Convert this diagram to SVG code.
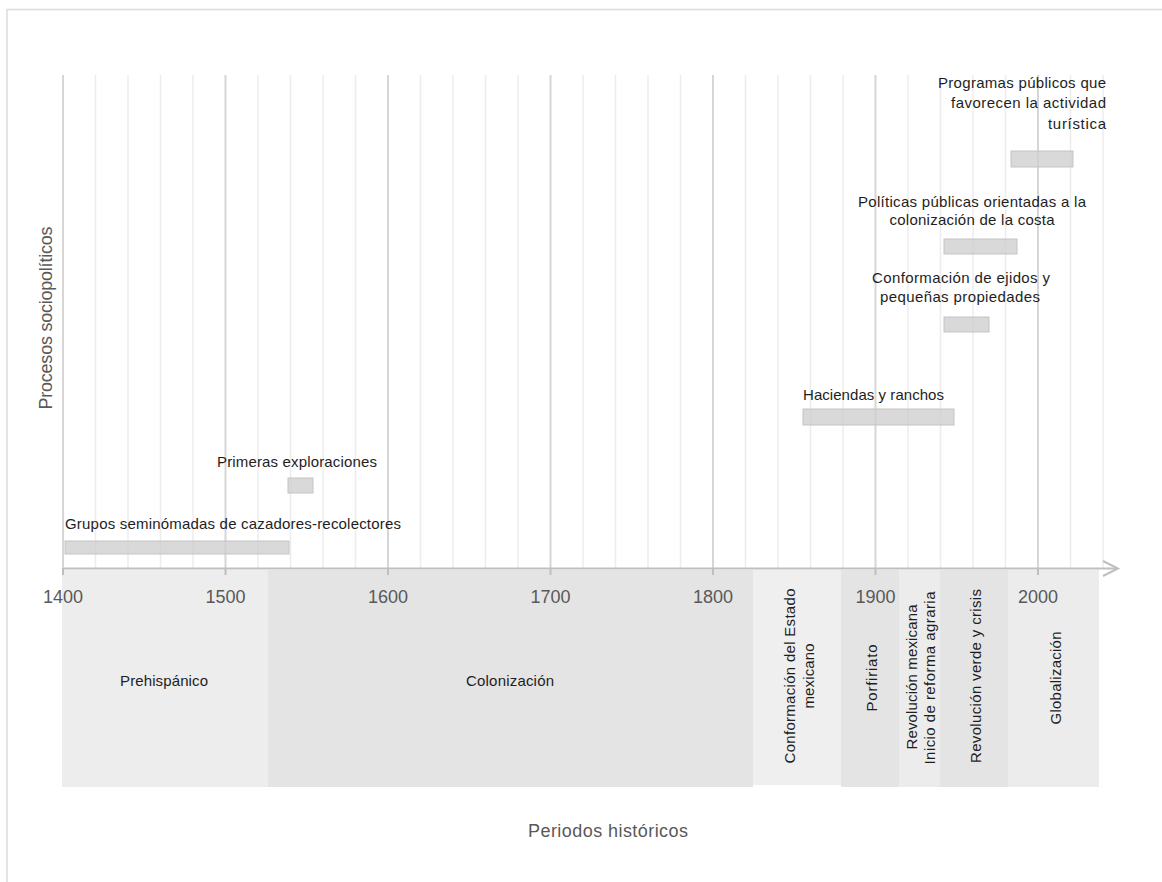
<svg xmlns="http://www.w3.org/2000/svg" width="1162" height="882" viewBox="0 0 1162 882">
<style>
.lbl{font-family:"Liberation Sans",Arial,sans-serif;font-size:15px;fill:#1e1e1e}
.yr{font-family:"Liberation Sans",Arial,sans-serif;font-size:18px;fill:#595959;text-anchor:middle}
.ax{font-family:"Liberation Sans",Arial,sans-serif;font-size:18px;fill:#595959;text-anchor:middle}
.mid{text-anchor:middle}
.end{text-anchor:end}
.g{stroke:#ececec;stroke-width:1.5}
.gc{stroke:#d6d6d6;stroke-width:2}
.bar{fill:#cfcfcf;fill-opacity:0.8;stroke:#c4c4c4;stroke-width:1}
.tick{stroke:#bfbfbf;stroke-width:2}
</style>
<rect x="0" y="0" width="1162" height="882" fill="#ffffff"/>
<rect x="7" y="9.5" width="1200" height="900" fill="none" stroke="#dcdcdc" stroke-width="1.5"/>

<g id="periods">
<rect x="62" y="570" width="206" height="217" fill="#ededed"/>
<rect x="268" y="570" width="485" height="217" fill="#e4e4e4"/>
<rect x="753" y="570" width="88" height="215" fill="#efefef"/>
<rect x="841" y="570" width="58" height="217" fill="#e4e4e4"/>
<rect x="899" y="570" width="41" height="217" fill="#ececec"/>
<rect x="940" y="570" width="68" height="217" fill="#e4e4e4"/>
<rect x="1008" y="570" width="91" height="217" fill="#ececec"/>
<text class="lbl mid" x="164" y="686" textLength="88">Prehispánico</text>
<text class="lbl mid" x="510" y="686" textLength="88">Colonización</text>
<text class="lbl mid" transform="translate(795,676) rotate(-90)" textLength="175">Conformación del Estado</text>
<text class="lbl mid" transform="translate(814,676) rotate(-90)" textLength="65">mexicano</text>
<text class="lbl mid" transform="translate(877,678) rotate(-90)" textLength="67">Porfiriato</text>
<text class="lbl mid" transform="translate(917,677) rotate(-90)" textLength="145">Revolución mexicana</text>
<text class="lbl mid" transform="translate(935,678) rotate(-90)" textLength="173">Inicio de reforma agraria</text>
<text class="lbl mid" transform="translate(981,676) rotate(-90)" textLength="174">Revolución verde y crisis</text>
<text class="lbl mid" transform="translate(1061,678) rotate(-90)" textLength="93">Globalización</text>
</g>

<g id="grid">
<line class="gc" x1="63" y1="75" x2="63" y2="568"/>
<line class="g" x1="95.5" y1="75" x2="95.5" y2="568"/>
<line class="g" x1="128" y1="75" x2="128" y2="568"/>
<line class="g" x1="160.5" y1="75" x2="160.5" y2="568"/>
<line class="g" x1="193" y1="75" x2="193" y2="568"/>
<line class="gc" x1="225.5" y1="75" x2="225.5" y2="568"/>
<line class="g" x1="258" y1="75" x2="258" y2="568"/>
<line class="g" x1="290.5" y1="75" x2="290.5" y2="568"/>
<line class="g" x1="323" y1="75" x2="323" y2="568"/>
<line class="g" x1="355.5" y1="75" x2="355.5" y2="568"/>
<line class="gc" x1="388" y1="75" x2="388" y2="568"/>
<line class="g" x1="420.5" y1="75" x2="420.5" y2="568"/>
<line class="g" x1="453" y1="75" x2="453" y2="568"/>
<line class="g" x1="485.5" y1="75" x2="485.5" y2="568"/>
<line class="g" x1="518" y1="75" x2="518" y2="568"/>
<line class="gc" x1="550.5" y1="75" x2="550.5" y2="568"/>
<line class="g" x1="583" y1="75" x2="583" y2="568"/>
<line class="g" x1="615.5" y1="75" x2="615.5" y2="568"/>
<line class="g" x1="648" y1="75" x2="648" y2="568"/>
<line class="g" x1="680.5" y1="75" x2="680.5" y2="568"/>
<line class="gc" x1="713" y1="75" x2="713" y2="568"/>
<line class="g" x1="745.5" y1="75" x2="745.5" y2="568"/>
<line class="g" x1="778" y1="75" x2="778" y2="568"/>
<line class="g" x1="810.5" y1="75" x2="810.5" y2="568"/>
<line class="g" x1="843" y1="75" x2="843" y2="568"/>
<line class="gc" x1="875.5" y1="75" x2="875.5" y2="568"/>
<line class="g" x1="908" y1="75" x2="908" y2="568"/>
<line class="g" x1="940.5" y1="75" x2="940.5" y2="568"/>
<line class="g" x1="973" y1="75" x2="973" y2="568"/>
<line class="g" x1="1005.5" y1="75" x2="1005.5" y2="568"/>
<line class="gc" x1="1038" y1="75" x2="1038" y2="568"/>
<line class="g" x1="1070.5" y1="75" x2="1070.5" y2="568"/>
<line class="g" x1="1103" y1="75" x2="1103" y2="568"/>
</g>

<g id="axis">
<line x1="63" y1="568.5" x2="1117" y2="568.5" stroke="#bfbfbf" stroke-width="2"/>
<polyline points="1103,561 1118,568.5 1103,576" fill="none" stroke="#bfbfbf" stroke-width="2"/>
<line class="tick" x1="63" y1="568" x2="63" y2="575"/>
<line class="tick" x1="225.5" y1="568" x2="225.5" y2="575"/>
<line class="tick" x1="388" y1="568" x2="388" y2="575"/>
<line class="tick" x1="550.5" y1="568" x2="550.5" y2="575"/>
<line class="tick" x1="713" y1="568" x2="713" y2="575"/>
<line class="tick" x1="875.5" y1="568" x2="875.5" y2="575"/>
<line class="tick" x1="1038" y1="568" x2="1038" y2="575"/>
<text class="yr" x="63" y="603">1400</text>
<text class="yr" x="225.5" y="603">1500</text>
<text class="yr" x="388" y="603">1600</text>
<text class="yr" x="550.5" y="603">1700</text>
<text class="yr" x="713" y="603">1800</text>
<text class="yr" x="875.5" y="603">1900</text>
<text class="yr" x="1038" y="603">2000</text>
<text class="ax" x="608" y="837" textLength="160">Periodos históricos</text>
<text class="ax" transform="translate(52,318) rotate(-90)" textLength="183">Procesos sociopolíticos</text>
</g>

<g id="p-grupos">
<rect class="bar" x="65" y="541" width="224" height="13"/>
<text class="lbl" x="65" y="529" textLength="336">Grupos seminómadas de cazadores-recolectores</text>
</g>
<g id="p-primeras">
<rect class="bar" x="288" y="478" width="25" height="15"/>
<text class="lbl" x="217" y="467" textLength="160">Primeras exploraciones</text>
</g>
<g id="p-haciendas">
<rect class="bar" x="803" y="409" width="151" height="16"/>
<text class="lbl" x="803" y="400" textLength="141">Haciendas y ranchos</text>
</g>
<g id="p-ejidos">
<rect class="bar" x="944" y="317" width="45" height="15"/>
<text class="lbl mid" x="961" y="283" textLength="178">Conformación de ejidos y</text>
<text class="lbl mid" x="960" y="302" textLength="160">pequeñas propiedades</text>
</g>
<g id="p-politicas">
<rect class="bar" x="944" y="239" width="73" height="15"/>
<text class="lbl mid" x="972" y="207" textLength="228">Políticas públicas orientadas a la</text>
<text class="lbl mid" x="972" y="225" textLength="165">colonización de la costa</text>
</g>
<g id="p-programas">
<rect class="bar" x="1011" y="151" width="62" height="16"/>
<text class="lbl end" x="1106" y="88" textLength="168">Programas públicos que</text>
<text class="lbl end" x="1106" y="108" textLength="155">favorecen la actividad</text>
<text class="lbl end" x="1106" y="129" textLength="58">turística</text>
</g>
</svg>
